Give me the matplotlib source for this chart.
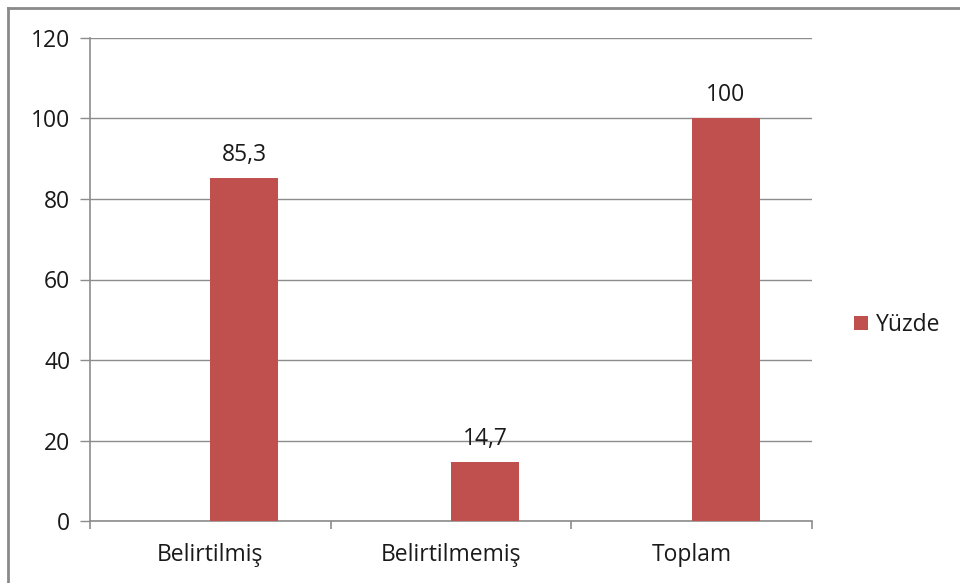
import matplotlib
matplotlib.use("Agg")
import matplotlib.pyplot as plt
from matplotlib.lines import Line2D
from matplotlib.patches import Patch

categories = ["Belirtilmiş", "Belirtilmemiş", "Toplam"]
values = [85.3, 14.7, 100]
value_labels = ["85,3", "14,7", "100"]
series_name = "Yüzde"
yticks = [0, 20, 40, 60, 80, 100, 120]

bar_color = "#C0504D"
grid_color = "#8C8C8C"
text_color = "#1A1A1A"
fs = 16.5

plt.rcParams["font.family"] = ["Open Sans", "DejaVu Sans"]

fig = plt.figure(figsize=(9.6, 5.83), dpi=100)
ax = fig.add_axes([90 / 960, 62 / 583, 722 / 960, 483 / 583])

x = list(range(len(categories)))
bars = ax.bar(x, values, width=0.283, align="edge", color=bar_color,
              zorder=3, label=series_name)

for rect, lab in zip(bars, value_labels):
    ax.annotate(lab, (rect.get_x() + rect.get_width() / 2, rect.get_height()),
                xytext=(0, 8), textcoords="offset points", ha="center",
                va="bottom", fontsize=fs, color=text_color)

ax.set_xlim(-0.5, len(categories) - 0.5)
ax.set_ylim(0, 120)
ax.set_yticks(yticks)
ax.set_yticklabels([str(v) for v in yticks])
ax.yaxis.grid(True, color=grid_color, linewidth=1.0, zorder=0)
ax.set_axisbelow(True)

# category labels centred, tick marks on category boundaries
ax.set_xticks(x)
ax.set_xticklabels(categories)
ax.set_xticks([i - 0.5 for i in range(len(categories) + 1)], minor=True)
ax.tick_params(axis="x", which="major", length=0, pad=15.5, labelsize=fs,
               labelcolor=text_color)
ax.tick_params(axis="x", which="minor", length=6, width=1.2, color=grid_color,
               direction="out")
ax.tick_params(axis="y", length=7.2, width=1.0, color=grid_color, pad=7,
               labelsize=fs, labelcolor=text_color)

for side in ["top", "right"]:
    ax.spines[side].set_visible(False)
for side in ["left", "bottom"]:
    ax.spines[side].set_color(grid_color)
    ax.spines[side].set_linewidth(1.2)

fig.legend(handles=[Patch(facecolor=bar_color, label=series_name)],
           loc="center left", bbox_to_anchor=(854 / 960, 1 - 325 / 583),
           frameon=False, fontsize=fs, handlelength=0.6, handleheight=0.6,
           handletextpad=0.35, labelcolor=text_color, borderpad=0,
           borderaxespad=0)

# outer chart frame (top and left edges)
fig.add_artist(Line2D([8 / 960, 1], [1 - 8 / 583, 1 - 8 / 583],
                      transform=fig.transFigure, color="#8A8A8A", linewidth=2))
fig.add_artist(Line2D([8 / 960, 8 / 960], [0, 1 - 8 / 583],
                      transform=fig.transFigure, color="#8A8A8A", linewidth=2))

fig.savefig("out.png", dpi=100, facecolor="white")
